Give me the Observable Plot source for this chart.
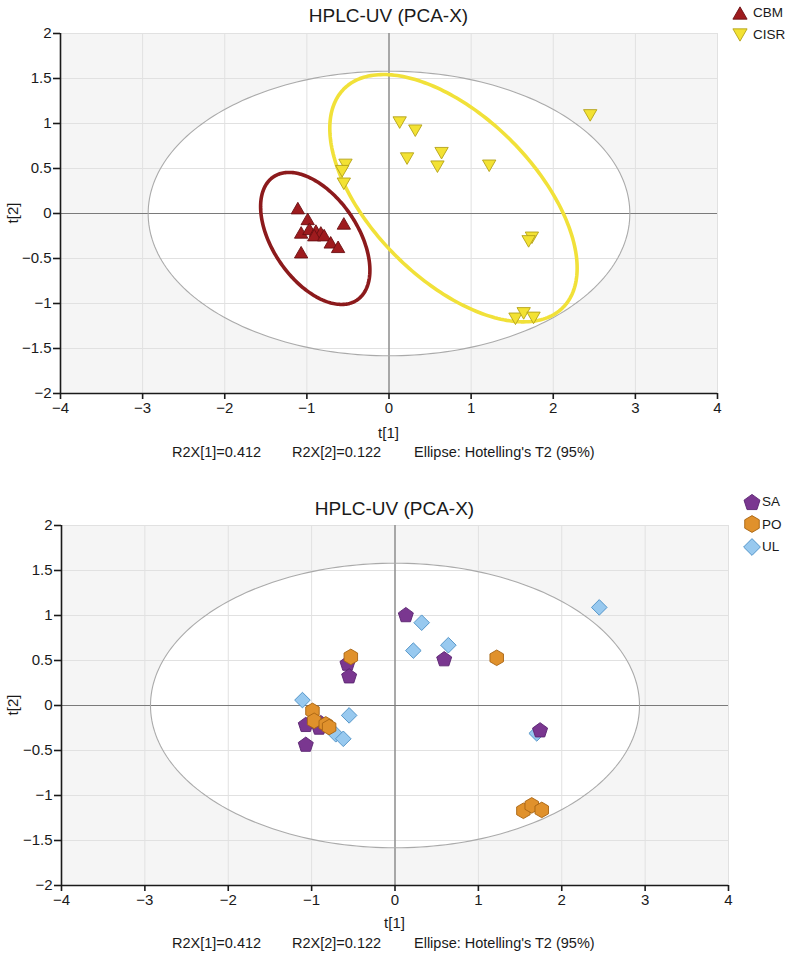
<!DOCTYPE html>
<html><head><meta charset="utf-8">
<script src="https://cdn.jsdelivr.net/npm/d3@7"></script>
<script src="https://cdn.jsdelivr.net/npm/@observablehq/plot@0.6"></script>
<style>
body{margin:0;background:#fff;font-family:"Liberation Sans",Arial,sans-serif;}
#page{position:relative;width:791px;height:954px;overflow:hidden;}
.abs{position:absolute;white-space:nowrap;color:#1a1a1a;line-height:1;}
.title{font-size:19px;transform:translate(-50%,-50%);}
.lbl{font-size:15px;transform:translate(-50%,-50%);}
.foot{font-size:14.5px;transform:translateY(-50%);}
.ylbl{font-size:15px;transform:translate(-50%,-50%) rotate(-90deg);}
.leg{display:flex;align-items:center;font-size:13.5px;transform:translateY(-50%);}
.leg svg{display:block;}
svg.plot{position:absolute;left:0;}
svg.plot text{font-size:15px !important;font-family:"Liberation Sans",Arial,sans-serif !important;fill:#1a1a1a;}
</style></head><body><div id="page"></div>
<script>
// ---------- data ----------
const xTicks = [-4, -3, -2, -1, 0, 1, 2, 3, 4];
const yTicks = [-2, -1.5, -1, -0.5, 0, 0.5, 1, 1.5, 2];

// CBM samples (t[1], t[2]) and their SA/PO/UL class
const cbmT1 = [-1.11, -0.99, -0.55, -1.07, -0.97, -0.89, -0.83, -0.91, -0.79, -0.71, -0.62, -1.07];
const cbmT2 = [0.06, -0.06, -0.11, -0.21, -0.17, -0.19, -0.21, -0.24, -0.24, -0.32, -0.37, -0.43];
const cbmClass = ["UL", "PO", "UL", "SA", "PO", "SA", "PO", "SA", "PO", "UL", "UL", "SA"];

// CISR samples
const cisrT1 = [0.13, 0.32, 2.45, 0.22, 0.64, 0.59, 1.22, -0.53, -0.57, -0.55, 1.74, 1.70, 1.54, 1.64, 1.76];
const cisrT2 = [1.01, 0.92, 1.09, 0.61, 0.67, 0.52, 0.53, 0.54, 0.47, 0.33, -0.27, -0.31, -1.17, -1.11, -1.16];
const cisrClass = ["SA", "UL", "UL", "UL", "UL", "SA", "PO", "PO", "SA", "SA", "SA", "UL", "PO", "PO", "PO"];

// ellipses: Hotelling T2 (95%), CBM group, CISR group (centre + shape matrix)
const ellipseName = ["T2", "CBM", "CISR"];
const ellipseCx = [0, -0.898, 0.785];
const ellipseCy = [0, -0.277, 0.17];
const ellipseSxx = [8.6, 0.4428, 2.268];
const ellipseSxy = [0, -0.235, -1.17];
const ellipseSyy = [2.5, 0.5378, 1.888];

const legend1 = ["CBM", "CISR"];
const legend2 = ["SA", "PO", "UL"];
const titleText = "HPLC-UV (PCA-X)";
const xLabel = "t[1]", yLabel = "t[2]";
const footText = ["R2X[1]=0.412", "R2X[2]=0.122", "Ellipse: Hotelling's T2 (95%)"];

// ---------- styling ----------
const FONT = '"Liberation Sans", Arial, sans-serif';
const colors = {
  CBM: {fill: "#9e1b1e", stroke: "#6a1012"},
  CISR: {fill: "#f3e233", stroke: "#b3a21a"},
  SA: {fill: "#7a3790", stroke: "#5a2470"},
  PO: {fill: "#e0912c", stroke: "#a86413"},
  UL: {fill: "#98c9ef", stroke: "#4b8fc4"}
};
const ellipseStroke = {T2: "#aaaaaa", CBM: "#8c1a1c", CISR: "#f1e139"};

function polySymbol(n, start, shift) {
  return {draw(ctx, size) {
    const R = Math.sqrt(size / Math.PI);
    for (let k = 0; k < n; k++) {
      const a = start + 2 * Math.PI * k / n;
      const x = R * Math.cos(a), y = R * Math.sin(a) + shift * R;
      if (k) ctx.lineTo(x, y); else ctx.moveTo(x, y);
    }
    ctx.closePath();
  }};
}
const symbols = {
  CBM: polySymbol(3, -Math.PI / 2, 0.25),
  CISR: polySymbol(3, Math.PI / 2, -0.25),
  SA: polySymbol(5, -Math.PI / 2, 0.095),
  PO: polySymbol(6, -Math.PI / 2, 0),
  UL: polySymbol(4, -Math.PI / 2, 0)
};
const symR = {CBM: 7.7, CISR: 7.7, SA: 7.9, PO: 7.8, UL: 7.8};

function ellipsePoints(i) {
  const L11 = Math.sqrt(ellipseSxx[i]);
  const L21 = ellipseSxy[i] / L11;
  const L22 = Math.sqrt(ellipseSyy[i] - L21 * L21);
  const pts = [];
  const N = 240;
  for (let k = 0; k < N; k++) {
    const t = 2 * Math.PI * k / N;
    pts.push({x: ellipseCx[i] + L11 * Math.cos(t), y: ellipseCy[i] + L21 * Math.cos(t) + L22 * Math.sin(t)});
  }
  return pts;
}
const fmt = d => (d < 0 ? "\u2212" + Math.abs(d) : String(d));

const page = document.getElementById("page");
function addDiv(cls, html, left, top) {
  const d = document.createElement("div");
  d.className = "abs " + cls;
  d.innerHTML = html;
  d.style.left = left + "px";
  d.style.top = top + "px";
  page.appendChild(d);
  return d;
}
function symbolSvg(name, r) {
  const p = d3.path();
  symbols[name].draw(p, r * r * Math.PI);
  return `<svg width="20" height="20" viewBox="-10 -10 20 20"><path d="${p.toString()}" fill="${colors[name].fill}" stroke="${colors[name].stroke}" stroke-width="0.9"/></svg>`;
}

function basePlot(ml, mr, ellipses, dotMarks) {
  const marks = [
    Plot.frame({fill: "#f5f5f5", stroke: null}),
    Plot.line(ellipsePoints(0), {x: "x", y: "y", fill: "white", stroke: null, curve: "linear-closed"}),
    Plot.gridX({ticks: xTicks, stroke: "#e1e1e1", strokeOpacity: 1, strokeWidth: 1}),
    Plot.gridY({ticks: yTicks, stroke: "#e1e1e1", strokeOpacity: 1, strokeWidth: 1}),
    Plot.ruleX([0], {stroke: "#7a7a7a", strokeWidth: 1.2}),
    Plot.ruleY([0], {stroke: "#7a7a7a", strokeWidth: 1.2}),
    Plot.line(ellipsePoints(0), {x: "x", y: "y", stroke: ellipseStroke.T2, strokeWidth: 1.1, curve: "linear-closed"}),
    ...ellipses.map(i => Plot.line(ellipsePoints(i), {x: "x", y: "y", stroke: ellipseStroke[ellipseName[i]], strokeWidth: 3.6, curve: "linear-closed"})),
    Plot.ruleY([yTicks[0]], {stroke: "#1a1a1a", strokeWidth: 1.6}),
    Plot.ruleX([xTicks[0]], {stroke: "#1a1a1a", strokeWidth: 1.6}),
    Plot.axisX({ticks: xTicks, tickSize: 6, tickPadding: 3, tickFormat: fmt, label: null, strokeWidth: 1.6, stroke: "#1a1a1a"}),
    Plot.axisY({ticks: yTicks, tickSize: 7, tickPadding: 2, tickFormat: fmt, label: null, strokeWidth: 1.6, stroke: "#1a1a1a"}),
    ...dotMarks
  ];
  const svg = Plot.plot({
    width: 791, height: 425,
    marginLeft: ml, marginRight: mr, marginTop: 33, marginBottom: 32,
    x: {domain: [xTicks[0], xTicks[xTicks.length - 1]]},
    y: {domain: [yTicks[0], yTicks[yTicks.length - 1]]},
    style: {fontFamily: FONT, fontSize: "15px", color: "#1a1a1a", background: "transparent", overflow: "visible"},
    marks
  });
  svg.classList.add("plot");
  return svg;
}

function dotsFor(T1, T2, idx, name) {
  return Plot.dot(idx, {
    x: i => T1[i], y: i => T2[i],
    symbol: symbols[name], r: symR[name],
    fill: colors[name].fill, stroke: colors[name].stroke, strokeWidth: 0.9
  });
}

// ---------- top chart ----------
const cbmIdx = d3.range(cbmT1.length), cisrIdx = d3.range(cisrT1.length);
const svg1 = basePlot(60, 74, [1, 2], [
  dotsFor(cbmT1, cbmT2, cbmIdx, "CBM"),
  dotsFor(cisrT1, cisrT2, cisrIdx, "CISR")
]);
svg1.style.top = "0px";
page.appendChild(svg1);
addDiv("title", titleText, 388.5, 15);
addDiv("lbl", xLabel, 388.5, 432);
addDiv("ylbl", yLabel, 12, 213);
const footX = [172, 292, 414];
footText.forEach((t, i) => addDiv("foot", t, footX[i], 452));
legend1.forEach((n, i) => addDiv("leg", symbolSvg(n, 8.2) + `<span style="margin-left:3px">${n}</span>`, 730, 13 + i * 22));

// ---------- bottom chart ----------
const groupDots = [];
for (const g of ["UL", "SA", "PO"]) {
  groupDots.push(dotsFor(cbmT1, cbmT2, cbmIdx.filter(i => cbmClass[i] === g), g));
  groupDots.push(dotsFor(cisrT1, cisrT2, cisrIdx.filter(i => cisrClass[i] === g), g));
}
const svg2 = basePlot(61, 63, [], groupDots);
svg2.style.top = "492px";
page.appendChild(svg2);
addDiv("title", titleText, 394.5, 508);
addDiv("lbl", xLabel, 394.5, 922);
addDiv("ylbl", yLabel, 12, 705);
footText.forEach((t, i) => addDiv("foot", t, footX[i], 943));
legend2.forEach((n, i) => addDiv("leg", symbolSvg(n, 8.4) + `<span style="margin-left:0px">${n}</span>`, 742, 502 + i * 22.3));
</script>
</body></html>
